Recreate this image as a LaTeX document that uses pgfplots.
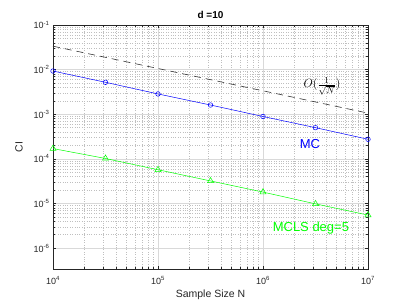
\documentclass[border=0pt]{standalone}
\usepackage{pgfplots}
\pgfplotsset{compat=1.18}
\usepackage{fontspec}
\setmainfont{Liberation Sans}
\definecolor{axgray}{gray}{0.15}
\definecolor{gridgray}{gray}{0.85}
\definecolor{mgridgray}{gray}{0.75}
\begin{document}
\begin{tikzpicture}[x=1pt,y=1pt]
\path[use as bounding box] (-53,-36) rectangle (354,269);
\begin{axis}[
  at={(0,0)}, anchor=south west,
  scale only axis, width=315pt, height=244pt,
  xmode=log, ymode=log,
  xmin=1e4, xmax=1e7, ymin=3.4e-7, ymax=1e-1,
  xtick={1e4,1e5,1e6,1e7},
  xticklabels={10\textsuperscript{4},10\textsuperscript{5},10\textsuperscript{6},10\textsuperscript{7}},
  ytick={1e-6,1e-5,1e-4,1e-3,1e-2,1e-1},
  yticklabels={10\textsuperscript{-6},10\textsuperscript{-5},10\textsuperscript{-4},10\textsuperscript{-3},10\textsuperscript{-2},10\textsuperscript{-1}},
  tick label style={font=\fontsize{9}{10}\selectfont, text=axgray},
  xticklabel style={yshift=-4pt},
  label style={font=\fontsize{10.5}{12}\selectfont, text=axgray},
  title style={font=\fontsize{10}{12}\selectfont\bfseries, yshift=-3pt},
  title={d =10},
  xlabel={Sample Size N},
  ylabel={CI},
  xlabel style={yshift=2pt},
  ylabel style={yshift=4pt},
  axis line style={axgray},
  tick style={axgray, line width=0.4pt},
  major tick length=3pt, minor tick length=1.8pt,
  tick align=inside,
  xtick pos=both, ytick pos=both,
  grid=both,
  major grid style={gridgray, line width=0.4pt},
  minor grid style={mgridgray, dotted, line width=0.4pt},
  clip=false,
]
\addplot[black!80, dash pattern=on 7pt off 5pt, line width=0.6pt] coordinates {
 (1e4,3.35e-2) (1e7,1.06e-3)};
\addplot[blue, line width=0.5pt, mark=o, mark size=2.3pt, mark options={solid}] coordinates {
 (1e4,9.3e-3) (3.1623e4,5.2e-3) (1e5,2.85e-3) (3.1623e5,1.61e-3) (1e6,8.9e-4) (3.1623e6,5.0e-4) (1e7,2.75e-4)};
\addplot[green, line width=0.5pt, mark=triangle, mark size=3.5pt, mark options={solid}] coordinates {
 (1e4,1.7e-4) (3.1623e4,1.02e-4) (1e5,5.7e-5) (3.1623e5,3.2e-5) (1e6,1.8e-5) (3.1623e6,9.8e-6) (1e7,5.5e-6)};
\node[font=\fontsize{13}{14}\selectfont] at (axis cs:3.65e6,4.3e-3) {$O(\frac{1}{\sqrt{N}})$};
\node[font=\fontsize{13}{14}\selectfont, text=blue] at (axis cs:2.8e6,2.1e-4) {MC};
\node[font=\fontsize{13}{14}\selectfont, text=green] at (axis cs:2.86e6,2.8e-6) {MCLS deg=5};
\end{axis}
\end{tikzpicture}
\end{document}
